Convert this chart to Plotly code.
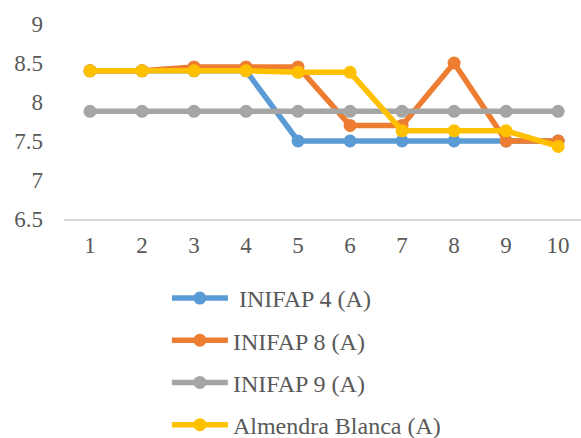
import plotly.graph_objects as go

# Sampling points along the x axis
points = [1, 2, 3, 4, 5, 6, 7, 8, 9, 10]

# Series values
inifap4 = [8.4, 8.4, 8.4, 8.4, 7.5, 7.5, 7.5, 7.5, 7.5, 7.5]
inifap8 = [8.4, 8.4, 8.45, 8.45, 8.45, 7.7, 7.7, 8.5, 7.5, 7.5]
inifap9 = [7.88, 7.88, 7.88, 7.88, 7.88, 7.88, 7.88, 7.88, 7.88, 7.88]
almendra = [8.4, 8.4, 8.4, 8.4, 8.38, 8.38, 7.63, 7.63, 7.63, 7.43]

series_names = [" INIFAP 4 (A)", "INIFAP 8 (A)", "INIFAP 9 (A)", "Almendra Blanca (A)"]
series_values = [inifap4, inifap8, inifap9, almendra]
series_colors = ["#5B9BD5", "#ED7D31", "#A5A5A5", "#FFC000"]

y_ticks = [6.5, 7, 7.5, 8, 8.5, 9]
y_tick_labels = ["6.5", "7", "7.5", "8", "8.5", "9"]

font_family = "'Liberation Serif', 'Times New Roman', 'DejaVu Serif', serif"
text_color = "#595959"

fig = go.Figure()
for i, (name, vals, col) in enumerate(zip(series_names, series_values, series_colors)):
    fig.add_trace(go.Scatter(
        x=points, y=vals, name=name, mode="lines+markers",
        line=dict(color=col, width=5.5),
        marker=dict(color=col, size=13),
        legendgroup=f"g{i}",
    ))

fig.update_layout(
    width=581, height=438,
    margin=dict(l=64, r=0, t=24, b=219, autoexpand=False),
    paper_bgcolor="white", plot_bgcolor="white",
    font=dict(family=font_family, color=text_color, size=23),
    showlegend=True,
    legend=dict(
        x=0.199, xanchor="left", yref="container", y=0.37, yanchor="top",
        font=dict(family=font_family, color=text_color, size=24),
        itemwidth=56, tracegroupgap=8,
        bgcolor="rgba(0,0,0,0)",
    ),
    xaxis=dict(
        range=[0.5, 10.44], tickmode="array", tickvals=points,
        ticktext=[str(p) for p in points],
        showgrid=False, showline=True, linecolor="#D9D9D9", linewidth=1.5,
        zeroline=False, ticks="", ticklabelstandoff=5,
        tickfont=dict(family=font_family, color=text_color, size=23),
    ),
    yaxis=dict(
        range=[6.5, 9], tickmode="array", tickvals=y_ticks, ticktext=y_tick_labels,
        showgrid=False, showline=False, zeroline=False, ticks="",
        ticklabelstandoff=20,
        tickfont=dict(family=font_family, color=text_color, size=23),
    ),
)

fig.write_html("out.html")
